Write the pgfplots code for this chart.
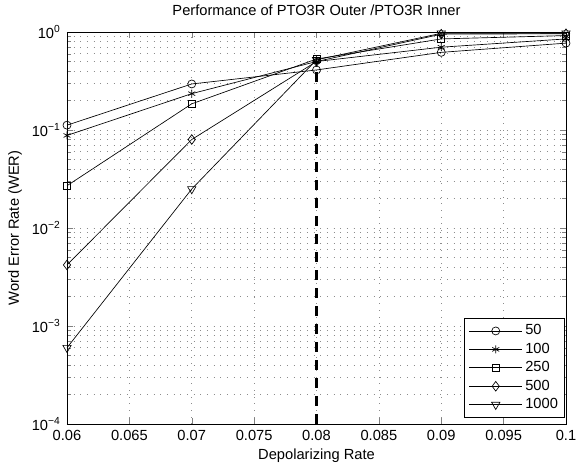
\documentclass[border=0pt]{standalone}
\usepackage{fontspec}
\setmainfont{Liberation Sans}
\usepackage{pgfplots}
\pgfplotsset{compat=1.18}
\begin{document}
\fontsize{11}{13}\selectfont
\begin{tikzpicture}
\begin{axis}[
  name=ax,
  scale only axis,
  width=374.25pt, height=294pt,
  xmin=0.06, xmax=0.1,
  ymode=log, ymin=1e-4, ymax=1,
  xtick={0.06,0.065,0.07,0.075,0.08,0.085,0.09,0.095,0.1},
  xticklabels={0.06,0.065,0.07,0.075,0.08,0.085,0.09,0.095,0.1},
  ytick={1e-4,1e-3,1e-2,1e-1,1},
  yticklabels={10\textsuperscript{−4},10\textsuperscript{−3},10\textsuperscript{−2},10\textsuperscript{−1},10\textsuperscript{0}},
  tick align=inside,
  ticklabel style={font=\fontsize{11}{13}\selectfont},
  xticklabel style={yshift=-1pt},
  yticklabel style={xshift=-1pt},
  grid=both,
  major grid style={dash pattern=on 0.6pt off 4.4pt, gray!90, line width=0.5pt},
  minor grid style={dash pattern=on 0.6pt off 4.4pt, gray!90, line width=0.5pt},
  minor x tick num=0,
  xlabel={Depolarizing Rate},
  ylabel={Word Error Rate (WER)},
  title={Performance of PTO3R Outer /PTO3R Inner},
  title style={at={(axis description cs:0.5,1.0357)}, anchor=center},
  xlabel style={at={(axis description cs:0.5,-0.0816)}, anchor=center},
  ylabel style={at={(axis description cs:-0.1042,0.5)}, anchor=center},
  legend style={at={(0.998,0.0153)}, anchor=south east, draw=black, line width=0.6pt, font=\fontsize{11}{13}\selectfont, inner sep=3pt, row sep=0.5pt},
  legend cell align=left,
  legend image code/.code={\draw[#1] (0cm,0cm) -- (1.4cm,0cm); \draw[#1] plot coordinates {(0.7cm,0cm)};},
  every axis plot/.append style={black, line width=0.5pt, mark size=3pt, mark options={solid, fill=white}},
]
\addplot[mark=o] coordinates {(0.06,0.112) (0.07,0.295) (0.08,0.41) (0.09,0.62) (0.1,0.77)};
\addplot[mark=asterisk] coordinates {(0.06,0.088) (0.07,0.235) (0.08,0.50) (0.09,0.70) (0.1,0.85)};
\addplot[mark=square, mark size=2.6pt] coordinates {(0.06,0.027) (0.07,0.185) (0.08,0.53) (0.09,0.85) (0.1,0.92)};
\addplot[mark=diamond, mark size=3.6pt] coordinates {(0.06,0.0042) (0.07,0.080) (0.08,0.50) (0.09,0.95) (0.1,0.96)};
\addplot[mark=triangle, mark options={rotate=180}, mark size=3.6pt] coordinates {(0.06,0.0006) (0.07,0.025) (0.08,0.52) (0.09,0.97) (0.1,0.97)};
\legend{50,100,250,500,1000}
\addplot[black, line width=2.6pt, dash pattern=on 7.5pt off 6pt, forget plot] coordinates {(0.08,1e-4) (0.08,0.5)};
\end{axis}
\pgfresetboundingbox
\path[use as bounding box] ([xshift=-50.25pt,yshift=-31.5pt]ax.south west) rectangle ([xshift=7.5pt,yshift=24pt]ax.north east);
\end{tikzpicture}
\end{document}
